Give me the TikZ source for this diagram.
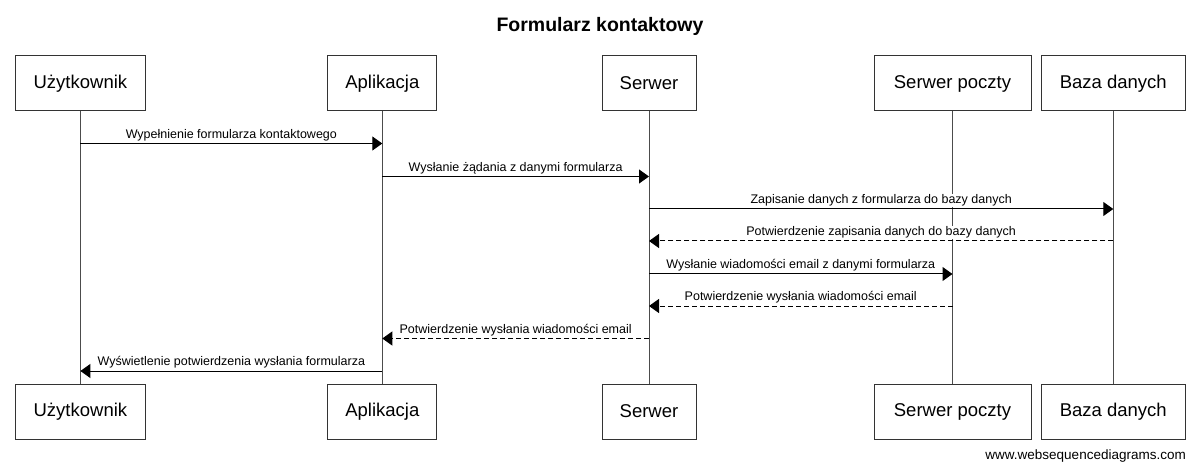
\documentclass[tikz,border=0pt]{standalone}
\usepackage{fontspec}
\setmainfont{Liberation Sans}
\usetikzlibrary{arrows.meta}

\begin{document}
\begin{tikzpicture} [
        x=1pt, y=-1pt,
        actor/.style={draw=black!80, rectangle, line width=1pt, minimum height=55pt,
            font=\fontsize{18.5}{21}\selectfont},
        life/.style={draw=black!70, line width=1pt},
        msg/.style={draw=black, line width=1pt, -{Triangle[length=10pt,width=14pt]}},
        reply/.style={msg, dash pattern=on 5pt off 3pt},
        lbl/.style={fill=white, inner sep=1pt, above=1pt, text depth=2.6pt,
            font=\fontsize{12.5}{14}\selectfont},
        align=center ]
    \useasboundingbox (0,0) rectangle (1200,473);
    \node[font=\bfseries\fontsize{19.5}{22}\selectfont, anchor=base] (title) at (600,31.7) {Formularz kontaktowy};

    % uczestnicy
    \node[actor, minimum width=130pt] (user) at (80.4,83.5) {Użytkownik};
    \node[actor, minimum width=109pt] (app)  at (382.3,83.5) {Aplikacja};
    \node[actor, minimum width=94pt]  (srv)  at (649,83.5) {Serwer};
    \node[actor, minimum width=157pt] (mail) at (952.5,83.5) {Serwer poczty};
    \node[actor, minimum width=144pt] (db)   at (1113.3,83.5) {Baza danych};

    \node[actor, minimum width=130pt] (userB) at (80.4,411.5) {Użytkownik};
    \node[actor, minimum width=109pt] (appB)  at (382.3,411.5) {Aplikacja};
    \node[actor, minimum width=94pt]  (srvB)  at (649,411.5) {Serwer};
    \node[actor, minimum width=157pt] (mailB) at (952.5,411.5) {Serwer poczty};
    \node[actor, minimum width=144pt] (dbB)   at (1113.3,411.5) {Baza danych};

    \foreach \a in {user,app,srv,mail,db}
        \draw[life] (\a) -- (\a B);

    \foreach \i/\y in {1/143.5,2/176.5,3/209,4/241,5/274,6/306,7/338.5,8/371}
        \coordinate (m\i) at (0,\y);

    % komunikaty
    \draw[msg] (user |- m1) -- node[lbl] {Wypełnienie formularza kontaktowego} (app |- m1);
    \draw[msg] (app |- m2) -- node[lbl] {Wysłanie żądania z danymi formularza} (srv |- m2);
    \draw[msg] (srv |- m3) -- node[lbl] {Zapisanie danych z formularza do bazy danych} (db |- m3);
    \draw[reply] (db |- m4) -- node[lbl] {Potwierdzenie zapisania danych do bazy danych} (srv |- m4);
    \draw[msg] (srv |- m5) -- node[lbl] {Wysłanie wiadomości email z danymi formularza} (mail |- m5);
    \draw[reply] (mail |- m6) -- node[lbl] {Potwierdzenie wysłania wiadomości email} (srv |- m6);
    \draw[reply] (srv |- m7) -- node[lbl] {Potwierdzenie wysłania wiadomości email} (app |- m7);
    \draw[msg] (app |- m8) -- node[lbl] {Wyświetlenie potwierdzenia wysłania formularza} (user |- m8);

    \node[font=\fontsize{13.5}{15}\selectfont, anchor=base east, inner sep=0pt] (wsd) at (1186,459) {www.websequencediagrams.com};
\end{tikzpicture}
\end{document}
